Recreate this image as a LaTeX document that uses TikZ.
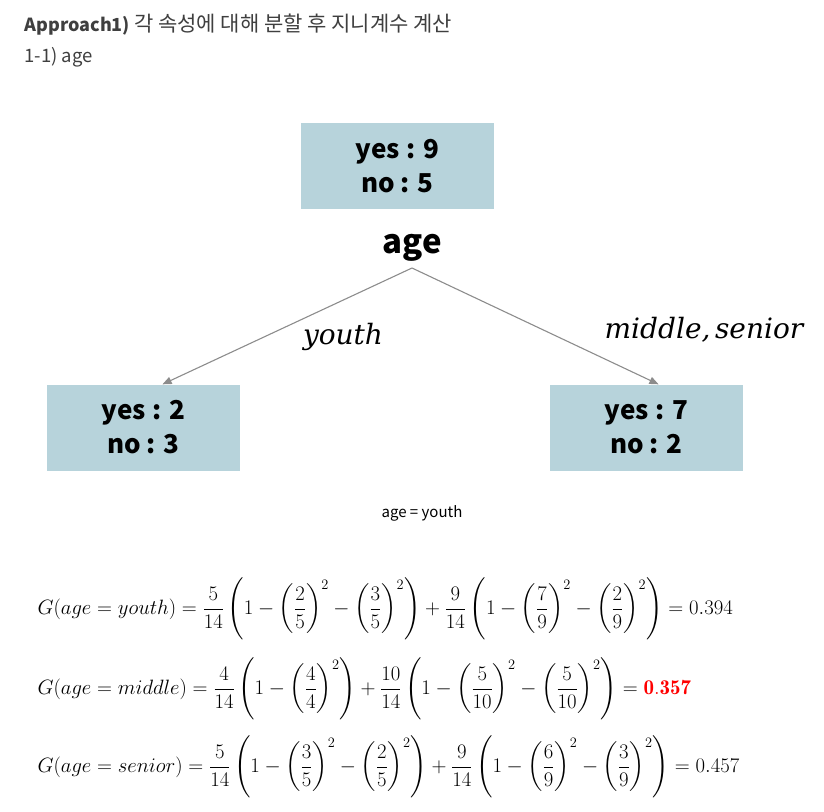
\documentclass[tikz,border=0pt]{standalone}
\usepackage{fontspec}
\usepackage{amsmath}
\usepackage{xcolor}
\usetikzlibrary{arrows,positioning}
\newfontfamily\kr{Noto Sans CJK KR}
\newfontfamily\labit{DejaVu Serif}
\definecolor{boxblue}{HTML}{B7D3DB}
\definecolor{headgray}{HTML}{3F3F3F}
\definecolor{edgegray}{HTML}{8C8C8C}

\begin{document}
\begin{tikzpicture}[x=1pt,y=-1pt,>=triangle 45,
    count/.style={rectangle,fill=boxblue,minimum width=193pt,minimum height=86pt,
        align=center,font=\kr\bfseries\fontsize{26}{34}\selectfont,inner sep=0pt},
    branch/.style={draw=edgegray,line width=1.1pt,->},
    cond/.style={font=\labit\itshape\fontsize{28}{30}\selectfont}]
    \useasboundingbox (0,0) rectangle (824,811);
    \node[anchor=west,text=headgray,font=\kr\fontsize{18}{22}\selectfont] (title) at (21,25)
        {\textbf{Approach1)} {\fontsize{21}{22}\selectfont 각 속성에 대해 분할 후 지니계수 계산}};
    \node[anchor=west,text=headgray,font=\kr\fontsize{18.5}{22}\selectfont] (sub) at (21,57) {1-1) age};
    \node[count] (root) at (397.5,166) {yes : 9\\no : 5};
    \node[font=\kr\bfseries\fontsize{33}{36}\selectfont] (attr) at (412,248) {age};
    \node[count] (young) at (143.5,427.5) {yes : 2\\no : 3};
    \node[count] (older) at (646.5,427.5) {yes : 7\\no : 2};
    \coordinate (split) at (412,268);
    \draw[branch] (split) -- ([xshift=19pt]young.north);
    \draw[branch] (split) -- ([xshift=12pt]older.north);
    \node[cond] (lyouth) at (343,337) {youth};
    \node[cond] (lrest) at (704,330) {middle,\,senior};
    \node[font=\kr\fontsize{15}{18}\selectfont] (case) at (422,513) {age = youth};
    % gini values
    \tikzset{every node/.style={anchor=west,font=\fontsize{21}{24}\selectfont}}
    \node (gy) at (34,609) {$\displaystyle G(age = youth) = \frac{5}{14}\left(1-\left(\frac{2}{5}\right)^{2}-\left(\frac{3}{5}\right)^{2}\right)+\frac{9}{14}\left(1-\left(\frac{7}{9}\right)^{2}-\left(\frac{2}{9}\right)^{2}\right) = 0.394$};
    \node (gm) at (34,689) {$\displaystyle G(age = middle) = \frac{4}{14}\left(1-\left(\frac{4}{4}\right)^{2}\right)+\frac{10}{14}\left(1-\left(\frac{5}{10}\right)^{2}-\left(\frac{5}{10}\right)^{2}\right) = \textcolor{red}{\mathbf{0.357}}$};
    \node (gs) at (34,767) {$\displaystyle G(age = senior) = \frac{5}{14}\left(1-\left(\frac{3}{5}\right)^{2}-\left(\frac{2}{5}\right)^{2}\right)+\frac{9}{14}\left(1-\left(\frac{6}{9}\right)^{2}-\left(\frac{3}{9}\right)^{2}\right) = 0.457$};
\end{tikzpicture}
\end{document}
